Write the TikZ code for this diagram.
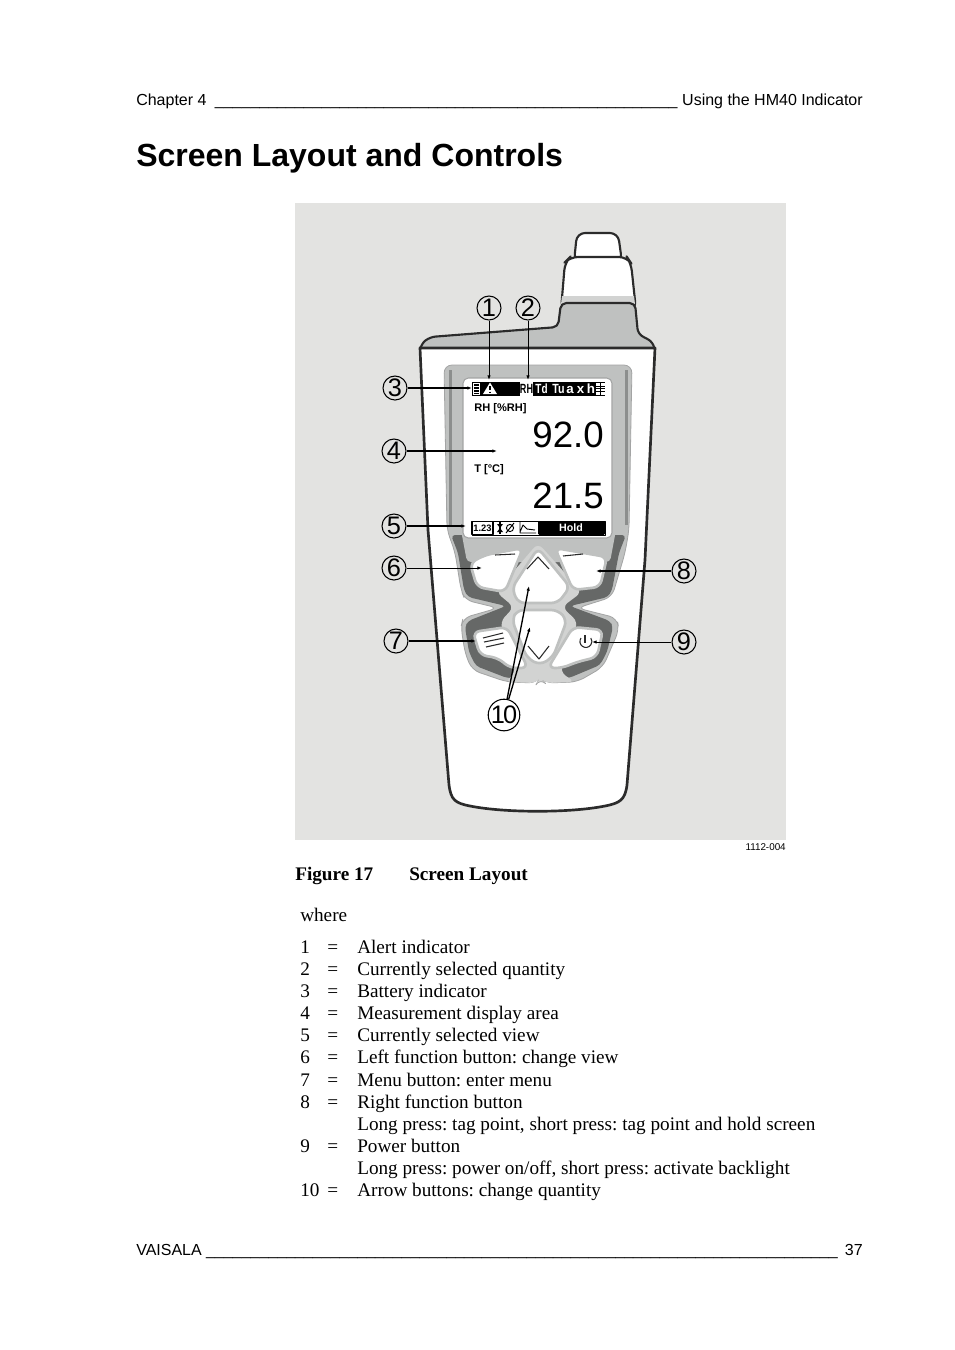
\documentclass[tikz,border=0pt]{standalone}
\usepackage{fontspec}
\setmainfont{Liberation Serif}
\setsansfont{Liberation Sans}
\usepackage{xcolor}
\usetikzlibrary{arrows.meta, positioning, calc}
\definecolor{figback}{HTML}{E3E3E1}
\definecolor{midgrey}{HTML}{BFC1C0}
\definecolor{lightgrey}{HTML}{D2D3D2}
\definecolor{darkgrey}{HTML}{666867}
\definecolor{bodyline}{HTML}{2B2B2B}

\begin{document}
\frenchspacing
\begin{tikzpicture}[
    x=0.75pt,
    y=-0.75pt,
    line join=round,
    headtext/.style={anchor=base west, inner sep=0, font=\sffamily\fontsize{12}{14}\selectfont},
    titletext/.style={anchor=base west, inner sep=0, font=\sffamily\bfseries\fontsize{24}{28}\selectfont},
    bodytext/.style={anchor=base west, inner sep=0, font=\fontsize{14.4}{17}\selectfont},
    boldtext/.style={bodytext, font=\bfseries\fontsize{14.4}{17}\selectfont},
    lcdsmall/.style={inner sep=0, font=\sffamily\bfseries\fontsize{8.3}{10}\selectfont},
    lcdbig/.style={anchor=base east, inner sep=0, font=\sffamily\fontsize{27.5}{32}\selectfont},
    lcdtab/.style={inner sep=0, text=white, font=\sffamily\bfseries\fontsize{10}{12}\selectfont},
    holdstyle/.style={inner sep=0, text=white, font=\sffamily\bfseries\fontsize{8}{10}\selectfont},
    callout/.style={draw=black, circle, thick, minimum size=18pt, inner sep=0, font=\sffamily\fontsize{19}{22}\selectfont},
    thinarrow/.style={-{Latex[length=3.5pt,width=2.6pt]}, line width=0.7pt},
    thickarrow/.style={-{Latex[length=3.5pt,width=2.6pt]}, line width=1.3pt},
    keybutton/.style={fill=white, draw=midgrey, line width=2pt, rounded corners=5pt},
    keymark/.style={draw=bodyline, line width=0.8pt},
  ]
\useasboundingbox (0,0) rectangle (954,1350);

% page header
\node[headtext] (chapter) at (136,105) {Chapter 4 \hspace{3pt}\_\_\_\_\_\_\_\_\_\_\_\_\_\_\_\_\_\_\_\_\_\_\_\_\_\_\_\_\_\_\_\_\_\_\_\_\_\_\_\_\_\_\_\_\_\_\_\_\_\_\_\_};
\node[headtext, anchor=base east] (section) at (863,105) {Using the HM40 Indicator};
\node[titletext] (title) at (136,166) {Screen Layout and Controls};

% figure background
\fill[figback] (295,203) rectangle (786,840);

% probe
\draw[fill=white, draw=bodyline, line width=1.6pt, rounded corners=6pt] (574,262) -- (577,233) -- (618,233) -- (622,262) -- cycle;
\draw[fill=white, draw=bodyline, line width=1.6pt, rounded corners=6pt] (561,310) -- (565,262) -- (570,257) -- (627,257) -- (631,263) -- (636,310) -- cycle;
\fill[lightgrey] (562,296) -- (634,296) -- (635,304) -- (561,304) -- cycle;

% body
\draw[fill=midgrey, draw=bodyline, line width=1.6pt, rounded corners=4pt] (420,352) -- (421,344) -- (430,337) -- (558,327) -- (561,303) -- (635,303) -- (638,334) -- (653,342) -- (655,352) -- cycle;
\draw[fill=white, draw=bodyline, line width=2pt]
  (420,348) -- (655,348) -- (645,560) -- (627,785) .. controls (625,800) and (620,803) .. (605,806)
  .. controls (570,813) and (505,813) .. (470,806) .. controls (455,803) and (451,800) .. (449,785) -- (428,530) -- cycle;

% bezel and keypad frame
\draw[fill=midgrey, draw=darkgrey!60, line width=0.6pt, rounded corners=6pt]
  (444,365) -- (632,365) -- (629,530) -- (625,553) -- (612,597) -- (577,608) -- (617,618) -- (619,630) -- (603,667) -- (577,682)
  -- (545,683) -- (540,678) -- (537,683) -- (507,682) -- (472,670) -- (465,653) -- (461,627) -- (463,618) -- (498,608)
  -- (465,600) -- (461,590) -- (455,552) -- (447,530) -- cycle;
\fill[darkgrey!75] (449,370) rectangle (452,525);
\fill[darkgrey!75] (625,370) rectangle (628,525);

% dark band round the keys
\fill[darkgrey, rounded corners=3pt]
  (451,535) -- (458,553) -- (464,590) -- (468,597) -- (506,606) -- (468,621) -- (465,627) -- (469,652) -- (476,666) -- (507,678)
  -- (569,678) -- (600,665) -- (607,652) -- (613,627) -- (610,621) -- (570,606) -- (608,597) -- (612,590) -- (619,553) -- (626,535) -- cycle;
\fill[midgrey, rounded corners=3pt] (461,530) -- (616,530) -- (610,562) -- (467,562) -- cycle;

% light cross under the arrow keys
\fill[lightgrey, rounded corners=5pt] (538,543) -- (582,592) -- (562,607) -- (578,622) -- (560,672) -- (575,682) -- (545,683) -- (540,678) -- (537,683) -- (505,682) -- (516,672) -- (500,622) -- (514,607) -- (496,592) -- cycle;

% keys
\path[keybutton] (485,555) -- (523,548) -- (505,592) -- (477,587) -- (470,563) -- cycle;
\path[keybutton] (555,548) -- (607,557) -- (600,587) -- (573,590) -- cycle;
\path[keybutton] (538,548) -- (570,587) -- (558,603) -- (518,603) -- (512,588) -- cycle;
\path[keybutton] (517,610) -- (558,610) -- (567,620) -- (553,657) -- (540,665) -- (527,658) -- (512,620) -- cycle;
\path[keybutton] (473,632) -- (507,627) -- (528,668) -- (510,668) -- (498,658) -- (480,655) -- cycle;
\path[keybutton] (573,627) -- (603,630) -- (597,657) -- (577,662) -- (562,668) -- (548,668) -- cycle;

% key marks
\draw[keymark] (495,555) -- (515,554);
\draw[keymark] (563,556) -- (583,554);
\draw[keymark] (527,569) -- (538,557) -- (549,569);
\draw[keymark] (528,646) -- (539,659) -- (549,646);
\draw[keymark] (483,638) -- (503,633);
\draw[keymark] (484,642) -- (504,638);
\draw[keymark] (486,647) -- (504,643);
\draw[keymark] (581,638) arc[start angle=215, end angle=-35, radius=6];
\draw[keymark] (585,635) -- (585,643);

% screen
\draw[fill=white, draw=darkgrey!60, line width=0.8pt, rounded corners=4pt] (463,378) rectangle (612,538);
\fill[black] (472,382) rectangle (605,396);
\draw[fill=white, draw=black, line width=0.6pt] (472.5,382.5) rectangle (480,395.5);
\draw[black, line width=1pt] (474,385) -- (478.5,385) (474,388) -- (478.5,388) (474,391) -- (478.5,391) (474,393.5) -- (478.5,393.5);
\fill[white] (483,394) -- (490,382.5) -- (497,394) -- cycle;
\draw[black, line width=1pt] (490,386) -- (490,390) (490,391.5) -- (490,393);
\fill[white] (520,382) rectangle (533,396);
\node[lcdtab, text=black] (tabrh) at (526.5,389) {\scalebox{0.68}[1]{RH}};
\node[lcdtab] (tabtd) at (541.5,389) {\scalebox{0.75}[1]{Td}};
\node[lcdtab] (tabtu) at (558.5,389) {\scalebox{0.8}[1]{Tu}};
\node[lcdtab] (taba) at (570,389.5) {a};
\node[lcdtab] (tabx) at (580.5,389.5) {x};
\node[lcdtab] (tabh) at (591,389) {h};
\fill[white] (596,383) rectangle (605,394.5);
\draw[black, line width=0.6pt] (596,386) -- (605,386) (596,388.5) -- (605,388.5) (596,391) -- (605,391) (600.5,383) -- (600.5,394.5);

\node[lcdsmall, anchor=base west] (rhlabel) at (474,411) {RH [\%RH]};
\node[lcdbig] (rhvalue) at (604,447) {92.0};
\node[lcdsmall, anchor=base west] (tlabel) at (474,472) {T [°C]};
\node[lcdbig] (tvalue) at (604,508) {21.5};

% soft key bar
\draw[black, line width=0.6pt] (472,521) rectangle (605,535);
\draw[fill=white, draw=black, line width=1pt] (472,521.5) rectangle (493,534.5);
\node[lcdsmall, font=\sffamily\bfseries\fontsize{7}{8}\selectfont] (viewtab) at (482.5,528) {1.23};
\draw[black, line width=1.1pt] (500,522) -- (500,534);
\fill[black] (497,524) -- (503,524) -- (500,528) -- cycle (497,532) -- (503,532) -- (500,528) -- cycle;
\draw[black, line width=0.7pt] (510,528) circle[radius=3.6] (506,533) -- (514,523);
\draw[black, line width=0.7pt] (520,522) -- (520,533) -- (536,533) (520,532) -- (523,525) -- (527,529) -- (535,530);
\fill[black, rounded corners=1pt] (538,521) rectangle (605,535);
\node[holdstyle] (holdtab) at (571,528) {Hold};

% callouts
\node[callout] (c1) at (489,308) {1};
\node[callout] (c2) at (528,308) {2};
\node[callout] (c3) at (395,388) {3};
\node[callout] (c4) at (394,451) {4};
\node[callout] (c5) at (394,526) {5};
\node[callout] (c6) at (394,568) {6};
\node[callout] (c7) at (396,641) {7};
\node[callout] (c8) at (684,571) {8};
\node[callout] (c9) at (684,642) {9};
\node[callout] (c10) at (504,715) {1\kern-1.5pt 0};

\coordinate (alert) at (489,380);
\coordinate (quantity) at (528,380);
\coordinate (battery) at (472,388);
\coordinate (display) at (497,451);
\coordinate (view) at (466,526);
\coordinate (leftkey) at (482,568);
\coordinate (menukey) at (476,641);
\coordinate (rightkey) at (596,571);
\coordinate (powerkey) at (592,642);
\coordinate (upkey) at (529,586);
\coordinate (downkey) at (530,627);

\draw[thinarrow] (c1) -- (alert);
\draw[thinarrow] (c2) -- (quantity);
\draw[thickarrow] (c3) -- (battery);
\draw[thickarrow] (c4) -- (display);
\draw[thickarrow] (c5) -- (view);
\draw[thinarrow] (c6) -- (leftkey);
\draw[thickarrow] (c7) -- (menukey);
\draw[thickarrow] (c8) -- (rightkey);
\draw[thinarrow] (c9) -- (powerkey);
\draw[thickarrow, line width=1pt] (c10) -- (upkey);
\draw[thickarrow, line width=1pt] (c10) -- (downkey);

% caption
\node[anchor=base east, inner sep=0, font=\sffamily\fontsize{7.4}{9}\selectfont] (figcode) at (786,850) {1112-004};
\node[boldtext] (fignum) at (295,880) {Figure 17};
\node[boldtext] (figname) at (409,880) {Screen Layout};
\node[bodytext] (where) at (300,921) {where};

% legend
\node[bodytext] (n1) at (300,953) {1}; \node[bodytext] (e1) at (327,953) {=}; \node[bodytext] (t1) at (357,953) {Alert indicator};
\node[bodytext] (n2) at (300,975) {2}; \node[bodytext] (e2) at (327,975) {=}; \node[bodytext] (t2) at (357,975) {Currently selected quantity};
\node[bodytext] (n3) at (300,997) {3}; \node[bodytext] (e3) at (327,997) {=}; \node[bodytext] (t3) at (357,997) {Battery indicator};
\node[bodytext] (n4) at (300,1019) {4}; \node[bodytext] (e4) at (327,1019) {=}; \node[bodytext] (t4) at (357,1019) {Measurement display area};
\node[bodytext] (n5) at (300,1041) {5}; \node[bodytext] (e5) at (327,1041) {=}; \node[bodytext] (t5) at (357,1041) {Currently selected view};
\node[bodytext] (n6) at (300,1063) {6}; \node[bodytext] (e6) at (327,1063) {=}; \node[bodytext] (t6) at (357,1063) {Left function button: change view};
\node[bodytext] (n7) at (300,1086) {7}; \node[bodytext] (e7) at (327,1086) {=}; \node[bodytext] (t7) at (357,1086) {Menu button: enter menu};
\node[bodytext] (n8) at (300,1108) {8}; \node[bodytext] (e8) at (327,1108) {=}; \node[bodytext] (t8) at (357,1108) {Right function button};
\node[bodytext] (t8b) at (357,1130) {Long press: tag point, short press: tag point and hold screen};
\node[bodytext] (n9) at (300,1152) {9}; \node[bodytext] (e9) at (327,1152) {=}; \node[bodytext] (t9) at (357,1152) {Power button};
\node[bodytext] (t9b) at (357,1174) {Long press: power on/off, short press: activate backlight};
\node[bodytext] (n10) at (300,1196) {10}; \node[bodytext] (e10) at (327,1196) {=}; \node[bodytext] (t10) at (357,1196) {Arrow buttons: change quantity};

% page footer
\node[headtext] (vendor) at (136,1255) {VAISALA \_\_\_\_\_\_\_\_\_\_\_\_\_\_\_\_\_\_\_\_\_\_\_\_\_\_\_\_\_\_\_\_\_\_\_\_\_\_\_\_\_\_\_\_\_\_\_\_\_\_\_\_\_\_\_\_\_\_\_\_\_\_\_\_\_\_\_\_\_\_\_};
\node[headtext, anchor=base east] (pagenum) at (863,1255) {37};
\end{tikzpicture}
\end{document}
